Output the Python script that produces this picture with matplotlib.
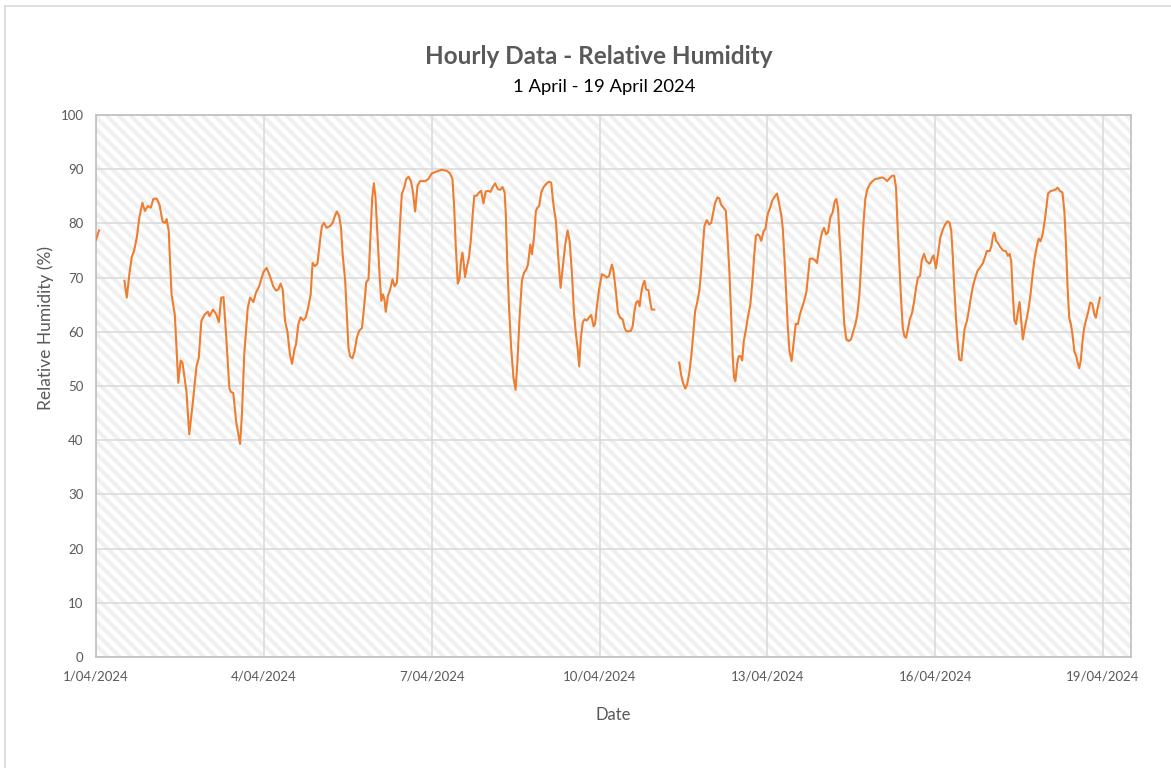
import numpy as np
import pandas as pd
import matplotlib
matplotlib.use("Agg")
import matplotlib.pyplot as plt
import matplotlib.dates as mdates
from matplotlib.collections import LineCollection
from matplotlib.lines import Line2D

# hours after 1/04/2024 00:00 and relative humidity (%)
# (nan marks the two gaps in the record)
hours = [0, 1.3, 6,
         12.2, 13.2, 14.3, 15.3, 16.3, 17.5, 18.6, 19.9, 21.0, 22.2, 23.5, 24.6, 26.0,
         27.2, 28.6, 29.6, 30.3, 31.2, 31.7, 32.4, 33.8, 35.3, 36.3, 37.1, 38.8, 40.0,
         41.6, 43.1, 44.1, 45.2, 46.6, 48.0, 48.7, 50.2, 51.6, 52.7, 53.7, 54.7, 55.8,
         57.2, 57.9, 58.9, 60.1, 61.8, 62.6, 63.6, 65.1, 66.1, 67.5, 68.6, 70.0,
         71.8, 73.2, 74.6, 76.0, 77.2, 78.2, 79.2, 80.1, 81.1, 82.1, 83.2, 84.1, 85.1,
         85.8, 86.8, 87.8, 88.9, 89.9, 91.0, 92.1, 92.9, 93.9, 95.0, 96.1, 96.9, 97.8,
         98.9, 100.4, 101.5, 102.5, 103.3, 104.3, 105.1, 105.8, 106.9, 107.6, 108.3,
         109.0, 110.0, 110.9, 111.9, 112.9, 114.1, 115.1, 115.9, 116.9, 117.7, 118.5,
         119.2, 119.9, 120.8, 121.7, 122.4, 123.1, 123.7, 124.3, 125.2, 126.2, 127.2,
         128.1, 129.1, 129.8, 130.5, 131.2, 132.2, 133.1, 134.1, 135.1, 135.9, 136.9,
         137.9, 139.0, 140.5,
         141.2, 142.6, 144.0, 146.2, 148.3, 150.5, 151.9, 152.9, 153.6, 154.3, 155.2,
         155.9, 156.6, 157.2, 157.8, 158.3, 159.0, 160.0, 160.9, 161.6, 162.3, 163.3,
         164.3, 165.2, 166.2, 167.2, 168.4, 169.2, 170.2, 171.2, 172.4, 173.4, 174.4,
         175.3, 175.8, 176.4, 177.2, 178.1, 179.1, 180.0, 180.8, 181.7, 182.7, 183.6,
         184.6, 185.3, 186.3, 187.0, 187.9, 188.7, 189.4, 190.1, 191.0, 192.0, 193.4,
         194.4, 195.3, 195.9, 196.4, 197.3, 198.2, 199.3, 200.2, 201.3, 202.3, 203.2,
         204.2, 205.0, 205.9, 206.6, 207.3, 208.0, 208.8, 209.6, 210.6, 211.4, 212.4,
         213.5,
         214.1, 214.8, 215.8, 217.0, 218.1, 219.1, 220.1, 221.3, 222.0, 223.0, 223.9,
         224.9, 225.9, 226.8, 227.5, 228.4, 229.5, 230.2, 231.0, 231.7, 232.5, 233.2,
         233.9, 234.6, 235.3, 236.0, 237.0, 237.8, 238.4, 239.5, 245,
         250.2, 251.0, 251.8, 252.8, 253.6, 254.5, 255.3, 256.2, 257.0, 257.9, 258.8,
         259.6, 260.3, 261.0, 262.0, 263.1, 263.9, 264.9, 265.6, 266.6, 267.4, 268.1,
         269.2, 270.2, 270.9, 271.7, 272.4, 273.1, 273.7, 274.3, 275.0, 275.7, 276.5,
         277.2, 277.9, 278.8, 279.6, 280.7, 281.6, 282.4, 283.1, 283.9, 284.6, 285.4,
         286.4,
         287.1, 288.2, 289.2, 290.2, 291.4, 292.2, 293.1, 293.9, 294.6, 295.4, 296.1,
         296.8, 297.5, 298.4, 299.2, 300.2, 301.1, 301.9, 302.8, 303.8, 304.8, 305.5,
         306.2, 307.4, 308.5, 309.3, 310.0, 310.7, 311.4, 312.3, 313.2, 314.0, 315.0,
         316.0, 316.9, 317.6, 318.3, 318.9, 319.6, 320.3, 321.0, 321.9, 322.9, 323.9,
         324.7, 325.8, 326.6, 327.5, 328.3, 329.2, 330.0, 330.9, 331.9, 332.9, 334.3,
         335.8, 337.2, 338.2, 339.4, 340.4, 341.5, 342.4, 343.2, 343.9, 344.7, 345.4,
         346.1, 346.8, 347.5, 348.4, 349.1, 350.1, 351.0, 351.9, 352.6, 353.5, 354.2,
         355.2, 356.2, 357.4,
         357.9, 358.6, 359.3, 360.3, 361.2, 362.2, 363.3, 364.3, 365.3, 366.2, 366.9,
         367.5, 368.2, 368.9, 369.6, 370.3, 371.2, 371.9, 372.6, 373.6, 374.5, 375.3,
         376.2, 377.2, 378.2, 379.3, 380.5, 381.5, 382.2, 383.4, 384.1, 384.8, 385.4,
         386.1, 387.0, 388.0, 389.1, 390.3, 391.2, 391.9, 392.6, 393.3, 394.0, 394.7,
         395.5, 396.2, 396.9, 397.6, 398.4, 399.2, 400.1, 400.9, 401.8, 402.7, 403.5,
         404.4, 405.2, 406.1, 407.0, 407.7, 408.4, 409.6, 410.8, 411.8, 412.5, 413.5,
         414.6, 415.4, 416.1, 416.8, 417.5, 418.2, 418.9, 419.7, 420.5, 421.1, 421.8,
         422.5, 423.2, 423.9, 424.8, 425.7, 426.5, 427.4, 428.3, 428.9, 429.7, 430.7]

rh = [77.0, 78.7, np.nan,
      69.4, 66.3, 70.6, 73.7, 74.9, 77.4, 81.1, 83.8, 82.3, 83.2, 82.9, 84.5, 84.6,
      83.5, 80.3, 80.1, 80.8, 78.6, 73.7, 66.9, 63.2, 50.6, 54.7, 54.3, 49.0, 41.1,
      47.2, 53.6, 55.2, 62.0, 63.2, 63.7, 62.9, 64.1, 63.2, 61.8, 66.3, 66.4, 59.5,
      49.6, 48.9, 48.7, 43.5, 39.3, 44.7, 55.8, 64.4, 66.3, 65.5, 67.2, 68.4,
      71.0, 71.8, 70.3, 68.4, 67.6, 67.8, 68.9, 67.8, 62.0, 60.1, 55.8, 54.1, 56.7,
      57.7, 61.4, 62.7, 62.1, 62.6, 64.4, 66.9, 72.7, 72.1, 72.6, 76.8, 79.5, 80.1,
      79.2, 79.5, 80.1, 81.4, 82.2, 81.4, 79.2, 74.3, 69.4, 63.2, 57.0,
      55.5, 55.1, 56.4, 58.9, 60.2, 60.7, 65.0, 69.1, 69.7, 77.4, 84.8,
      87.4, 84.8, 77.4, 70.0, 65.7, 66.9, 66.0, 63.7, 66.6, 67.8, 69.7,
      68.4, 69.1, 74.3, 80.5, 85.4, 86.6, 88.2, 88.6, 87.8, 86.0, 82.2,
      86.9, 87.8, 87.8,
      87.8, 88.2, 89.2, 89.6, 89.9, 89.7, 89.2, 88.2, 83.5, 76.1, 68.9,
      69.7, 73.1, 74.6, 72.4, 70.1, 71.8, 73.7, 77.4, 81.7, 85.1, 85.1,
      85.7, 86.0, 83.7, 85.9, 86.0, 85.8, 86.7, 87.4, 86.3, 86.2, 86.7,
      85.7, 81.7, 73.1, 64.4, 57.0, 51.5, 49.3, 54.6, 62.6, 69.4, 70.9,
      71.5, 72.4, 76.1, 74.3, 77.4, 82.3, 82.9, 83.2, 85.7, 86.7, 87.4,
      87.7, 87.5, 84.8, 82.9, 80.4, 74.3, 68.1, 71.8, 76.1, 78.7, 76.7,
      70.6, 63.8, 59.5, 57.0, 53.6, 58.9, 61.7, 62.3, 62.1, 62.6, 63.1,
      61.0,
      61.5, 64.4, 67.8, 70.6, 70.4, 70.0, 70.3, 72.4, 71.2, 67.5, 63.5,
      62.6, 62.3, 60.7, 60.1, 60.1, 60.2, 61.0, 63.8, 65.4, 65.7, 64.7,
      67.2, 68.7, 69.4, 67.8, 67.7, 65.4, 64.1, 64.1, np.nan,
      54.3, 52.1, 50.6, 49.5, 50.3, 52.4, 55.2, 59.5, 63.8, 65.4, 67.5,
      71.2, 75.5, 79.5, 80.6, 79.8, 80.1, 82.3, 83.8, 84.8, 84.6, 83.5,
      82.9, 82.3, 77.4, 71.2, 63.8, 55.8, 51.5, 50.9, 54.0, 55.5, 55.5,
      54.7, 58.3, 60.4, 62.6, 65.0, 69.4, 74.3, 77.7, 78.0, 77.7, 76.8,
      78.6,
      78.9, 81.8, 82.9, 84.3, 85.1, 85.5, 83.5, 81.7, 79.2, 73.1, 66.9,
      60.7, 56.4, 54.6, 57.7, 61.5, 61.4, 63.1, 64.4, 65.7, 67.5, 70.6,
      73.5, 73.5, 73.2, 72.7, 74.9, 76.8, 78.3, 79.2, 78.0, 78.3, 81.1,
      82.0, 84.1, 84.5, 82.9, 78.0, 73.1, 66.9, 61.4, 58.6, 58.3, 58.6,
      59.8, 61.5, 63.2, 66.9, 73.1, 79.8, 84.5, 86.3, 87.2, 87.7, 88.2,
      88.3, 88.5, 88.3, 87.8, 88.3, 88.8, 88.8, 86.6, 79.2, 71.8, 65.7,
      60.7, 59.2, 58.9, 60.7, 62.3, 63.5, 65.7, 68.4, 70.0, 70.3, 73.1,
      74.4, 73.1, 72.6,
      72.7, 73.6, 74.1, 71.7, 74.3, 77.4, 78.9, 79.8, 80.4, 80.1, 78.6,
      74.3, 68.1, 62.6, 58.3, 54.9, 54.7, 57.7, 60.5, 62.0, 64.1, 66.3,
      68.4, 70.0, 71.3, 71.9, 72.7, 74.0, 74.9, 74.9, 75.8, 77.7, 78.3,
      76.8, 76.3, 75.6, 75.0, 74.9, 74.0, 74.4, 73.1, 66.9, 62.0, 61.4,
      63.8, 65.5, 62.0, 58.6, 60.7, 62.3, 64.4, 66.9, 70.6, 73.7, 75.5,
      77.2, 76.7, 78.0, 80.5, 82.9, 85.5, 86.0, 86.1, 86.3, 86.6, 86.0,
      85.7, 82.3, 76.1, 68.1, 62.6, 61.4, 59.5, 56.4, 55.5, 54.3, 53.3,
      54.9, 58.3, 60.7, 62.3, 63.8, 65.4, 65.2, 63.2, 62.6, 64.4, 66.3]

tick_dates = ["2024-04-01", "2024-04-04", "2024-04-07", "2024-04-10",
              "2024-04-13", "2024-04-16", "2024-04-19"]

start = pd.Timestamp("2024-04-01")
times = start + pd.to_timedelta(hours, unit="h")

plt.rcParams['font.family'] = ['Lato', 'DejaVu Sans']

fig = plt.figure(figsize=(11.71, 7.68), dpi=100)
ax = fig.add_axes([96/1171, 1 - 657/768, 1035/1171, 542/768])

# diagonal background stripes
W, H = 1035.0, 542.0
cs = np.arange(0, W + H + 12, 12.0)
segs = [[((c - H) / W, 1.0), (c / W, 0.0)] for c in cs]
ax.add_collection(LineCollection(segs, colors="#F0F0F0", linewidths=3.0,
                                 transform=ax.transAxes, zorder=0))

ax.plot(times, rh, color="#ED7D31", lw=1.5, zorder=3)

ax.set_ylim(0, 100)
ax.set_yticks(range(0, 101, 10))
ax.set_xlim(start, start + pd.Timedelta(hours=18 * 24 + 12))
ax.set_xticks(pd.to_datetime(tick_dates))
ax.xaxis.set_major_formatter(plt.FuncFormatter(
    lambda v, p: (lambda d: f"{d.day}/{d.month:02d}/{d.year}")(mdates.num2date(v))))

ax.grid(True, color="#D9D9D9", lw=1.1, zorder=1)
ax.set_axisbelow(True)
for s in ax.spines.values():
    s.set_color("#BFBFBF")
    s.set_linewidth(1.2)
ax.tick_params(length=0, colors="#595959", labelsize=9.5)
ax.tick_params(axis="y", pad=9)
ax.tick_params(axis="x", pad=10)

ax.set_xlabel("Date", fontsize=12, color="#595959", labelpad=17)
ax.set_ylabel("Relative Humidity (%)", fontsize=12.5, color="#595959")
ax.yaxis.set_label_coords(-0.041, 0.607)

fig.text(0.511, 1 - 57/768, "Hourly Data - Relative Humidity", ha="center", va="center",
         fontsize=17.5, fontweight="bold", color="#595959")
fig.text(0.516, 1 - 87/768, "1 April - 19 April 2024", ha="center", va="center",
         fontsize=13.3, color="black")

# outer chart frame
fig.add_artist(Line2D([5.5/1171, 5.5/1171], [0, 1 - 5.5/768], color="#D9D9D9", lw=1.2))
fig.add_artist(Line2D([5.5/1171, 1], [1 - 5.5/768, 1 - 5.5/768], color="#D9D9D9", lw=1.2))

fig.savefig("out.png", dpi=100)
